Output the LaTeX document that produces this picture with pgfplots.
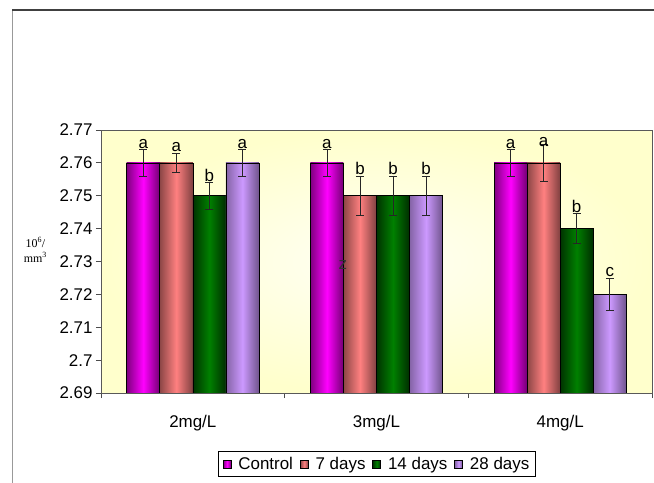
\documentclass[border=0pt]{standalone}
\usepackage{pgfplots}
\pgfplotsset{compat=1.18}
\usepackage{fontspec}
\setmainfont{Liberation Sans}
\newfontfamily\serifit{Liberation Serif}
\definecolor{cCtrl}{RGB}{255,0,255}
\definecolor{cSeven}{RGB}{255,128,128}
\definecolor{cFourteen}{RGB}{0,128,0}
\definecolor{cTwenty}{RGB}{204,153,255}
\definecolor{bgy}{RGB}{255,255,204}
\definecolor{bgw}{RGB}{255,255,245}
\pgfplotsset{
  sCtrl/.style={draw=black, line width=0.6bp, bar shift=-0.27, left color=cCtrl!50!black, right color=cCtrl!45!black, middle color=cCtrl},
  sSeven/.style={draw=black, line width=0.6bp, bar shift=-0.09, left color=cSeven!55!black, right color=cSeven!50!black, middle color=cSeven},
  sFourteen/.style={draw=black, line width=0.6bp, bar shift=0.09, left color=cFourteen!40!black, right color=cFourteen!35!black, middle color=cFourteen},
  sTwenty/.style={draw=black, line width=0.6bp, bar shift=0.27, left color=cTwenty!65!black, right color=cTwenty!55!black, middle color=cTwenty},
}
\begin{document}
\begin{tikzpicture}
\path[use as bounding box] (0,0) rectangle (654bp,483bp);
\begin{axis}[
  at={(101bp,90bp)}, anchor=south west,
  scale only axis, width=551bp, height=263bp,
  ymin=2.69, ymax=2.77,
  ytick={2.69,2.70,2.71,2.72,2.73,2.74,2.75,2.76,2.77},
  xmin=-0.5, xmax=2.5,
  xtick={-0.5,0.5,1.5,2.5},
  x tick label as interval,
  xticklabels={2mg/L,3mg/L,4mg/L},
  xticklabel style={yshift=-14bp},
  ybar, bar width=0.18,
  tick align=outside, tick pos=left, major tick length=5bp,
  axis line style={gray!70!black, line width=0.8bp},
  every tick/.style={gray!60!black, line width=0.8bp},
  font=\fontsize{17}{20}\selectfont,
  yticklabel style={/pgf/number format/.cd, fixed, precision=2, assume math mode=true},
  axis background/.style={inner color=bgw, outer color=bgy},
  ylabel={10\textsuperscript{6}/\\mm\textsuperscript{3}},
  ylabel style={rotate=-90, align=center, font=\serifit\fontsize{12}{15}\selectfont,
    at={(axis description cs:-0.119,0.544)}, anchor=center},
  legend style={at={(axis description cs:0.501,-0.27)}, anchor=center,
    legend columns=4, draw=black, line width=0.8bp, inner xsep=4bp, inner ysep=4bp,
    font=\fontsize{17}{20}\selectfont,
    /tikz/every odd column/.append style={column sep=5bp},
    /tikz/every even column/.append style={column sep=5bp}},
  legend image code/.code={\draw[#1, draw=black, line width=0.6bp] (0bp,-4bp) rectangle (8bp,4bp);},
  error bars/y dir=both, error bars/y explicit,
  error bars/error bar style={black!85, line width=0.8bp},
  error bars/error mark options={rotate=90, mark size=4bp, black!85, line width=0.8bp},
  after end axis/.code={\node[font=\fontsize{17}{20}\selectfont, text=black!80] at (axis cs:0.817,2.729) {z};},
]
\addplot[sCtrl] coordinates {(0,2.76) +- (0,0.004)};
\addlegendentry{Control}
\addplot[sCtrl, forget plot] coordinates {(1,2.76) +- (0,0.004)};
\addplot[sCtrl, forget plot] coordinates {(2,2.76) +- (0,0.004)};
\addplot[sSeven] coordinates {(0,2.76) +- (0,0.003)};
\addlegendentry{7 days}
\addplot[sSeven, forget plot] coordinates {(1,2.75) +- (0,0.006)};
\addplot[sSeven, forget plot] coordinates {(2,2.76) +- (0,0.0055)};
\addplot[sFourteen] coordinates {(0,2.75) +- (0,0.004)};
\addlegendentry{14 days}
\addplot[sFourteen, forget plot] coordinates {(1,2.75) +- (0,0.006)};
\addplot[sFourteen, forget plot] coordinates {(2,2.74) +- (0,0.0045)};
\addplot[sTwenty] coordinates {(0,2.76) +- (0,0.004)};
\addlegendentry{28 days}
\addplot[sTwenty, forget plot] coordinates {(1,2.75) +- (0,0.006)};
\addplot[sTwenty, forget plot] coordinates {(2,2.72) +- (0,0.005)};
\begin{scope}[every node/.style={anchor=south, inner sep=1bp, font=\fontsize{17}{20}\selectfont}]
\node at (axis cs:-0.27,2.764) {a};
\node at (axis cs:-0.09,2.763) {a};
\node at (axis cs:0.09,2.754) {b};
\node at (axis cs:0.27,2.764) {a};
\node at (axis cs:0.73,2.764) {a};
\node at (axis cs:0.91,2.756) {b};
\node at (axis cs:1.09,2.756) {b};
\node at (axis cs:1.27,2.756) {b};
\node at (axis cs:1.73,2.764) {a};
\node at (axis cs:1.91,2.7645) {a};
\node at (axis cs:2.09,2.7445) {b};
\node at (axis cs:2.27,2.725) {c};
\end{scope}
\end{axis}
\draw[gray!80, line width=1bp] (12bp,0) -- (12bp,473bp);
\draw[black!75, line width=1.2bp] (12bp,473bp) -- (654bp,473bp);
\end{tikzpicture}
\end{document}
